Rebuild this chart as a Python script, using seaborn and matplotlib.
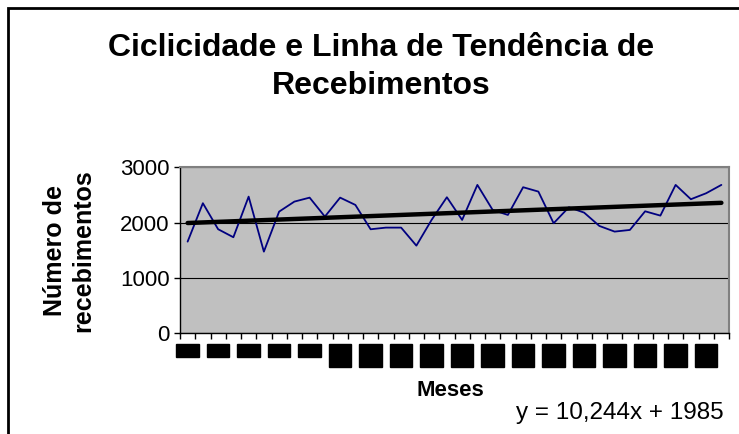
import numpy as np
import pandas as pd
import matplotlib
matplotlib.use("Agg")
import matplotlib.pyplot as plt
import seaborn as sns
from matplotlib.patches import Rectangle

# Dados (36 meses)
meses = list(range(1, 37))
recebimentos = [1657, 2351, 1881, 1736, 2470, 1476, 2199, 2380, 2452, 2109,
                2452, 2320, 1880, 1910, 1910, 1584, 2050, 2459, 2049, 2682,
                2230, 2139, 2640, 2561, 1989, 2278, 2181, 1940, 1838, 1868,
                2205, 2127, 2682, 2423, 2531, 2682]

# Rótulos do eixo x (ilegíveis no original: aparecem como blocos pretos)
meses_rotulo = list(range(1, 37, 2))
rotulos_x = ["jan.", "mar.", "mai.", "jul.", "set.",
             "nov.\n2001", "jan.\n2002", "mar.\n2002", "mai.\n2002", "jul.\n2002",
             "set.\n2002", "nov.\n2002", "jan.\n2003", "mar.\n2003", "mai.\n2003",
             "jul.\n2003", "set.\n2003", "nov.\n2003"]

y_ticks = [0, 1000, 2000, 3000]
equacao = "y = 10,244x + 1985"

df = pd.DataFrame({"Mes": meses, "Recebimentos": recebimentos})

sns.set_style("white")
plt.rcParams['font.family'] = ['Liberation Sans', 'DejaVu Sans']
plt.rcParams['text.color'] = 'black'
plt.rcParams['axes.labelcolor'] = 'black'
plt.rcParams['xtick.color'] = 'black'
plt.rcParams['ytick.color'] = 'black'

fig = plt.figure(figsize=(7.39, 4.34), dpi=100)
ax = fig.add_axes([180 / 739, 1 - 333.3 / 434, 549 / 739, 166 / 434])
ax.set_facecolor('#C0C0C0')

# Série e linha de tendência
sns.lineplot(data=df, x="Mes", y="Recebimentos", ax=ax, color='#000080', lw=1.3)
sns.regplot(data=df, x="Mes", y="Recebimentos", ax=ax, scatter=False, ci=None,
            truncate=True, line_kws=dict(color='black', lw=3.2))

ax.set_xlim(0.5, 36.5)
ax.set_ylim(0, 3000)
ax.set_yticks(y_ticks)
ax.set_yticklabels([str(v) for v in y_ticks], fontsize=16)
ax.yaxis.grid(True, color='black', lw=0.8)
ax.xaxis.grid(False)
ax.set_axisbelow(True)

# ticks nas divisões das categorias, rótulos no centro
ax.set_xticks(np.arange(0.5, 37, 1))
ax.set_xticklabels([])
ax.set_xticks(meses_rotulo, minor=True)
ax.set_xticklabels(rotulos_x, minor=True, fontsize=5.5, color='black',
                   family='DejaVu Sans Mono', linespacing=1.25)
for lbl in ax.get_xticklabels(minor=True):
    lbl.set_bbox(dict(facecolor='black', edgecolor='black', boxstyle='square,pad=0.25'))
    lbl.set_verticalalignment('top')

ax.tick_params(axis='both', which='major', direction='out', length=4, width=1,
               color='black', bottom=True, left=True)
ax.tick_params(axis='x', which='minor', length=0, pad=9, bottom=True)

for s in ['left', 'bottom']:
    ax.spines[s].set_color('black')
    ax.spines[s].set_linewidth(1)
for s in ['top', 'right']:
    ax.spines[s].set_color('#808080')
    ax.spines[s].set_linewidth(1.5)

ax.set_ylabel("Número de\nrecebimentos", fontsize=18, fontweight='bold')
ax.yaxis.set_label_coords(-0.155, 0.5)
ax.set_xlabel("Meses", fontsize=16, fontweight='bold')
ax.xaxis.set_label_coords(0.492, -0.28)

fig.text(381 / 739, 1 - 67 / 434, "Ciclicidade e Linha de Tendência de\nRecebimentos",
         ha='center', va='center', fontsize=23, fontweight='bold', linespacing=1.35)
fig.text(516 / 739, 1 - 413 / 434, equacao, ha='left', va='center', fontsize=17.5)

# moldura externa do gráfico (cortada à direita e embaixo)
fig.patches.append(Rectangle((8 / 739, -0.1), 1.2, 1 - 8 / 434 + 0.1,
                             transform=fig.transFigure, fill=False,
                             edgecolor='black', lw=2))

fig.savefig("out.png", dpi=100)
